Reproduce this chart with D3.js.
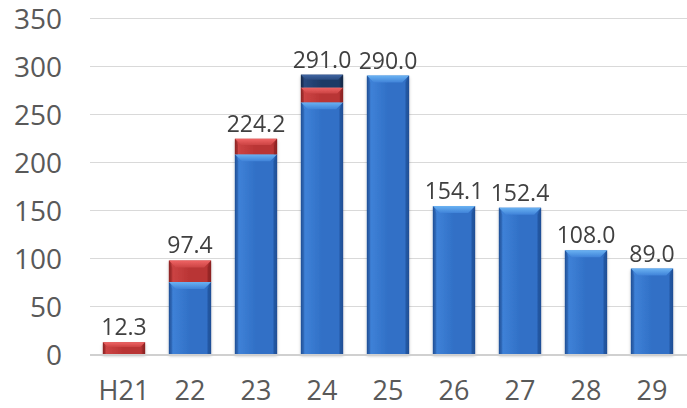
<!DOCTYPE html>
<html><head><meta charset="utf-8">
<script src="https://cdn.jsdelivr.net/npm/d3@7"></script>
<style>
html,body{margin:0;padding:0;background:#fff;}
svg{display:block;}
</style></head>
<body>
<svg id="c" width="687" height="408"></svg>
<script>
const categories = ["H21","22","23","24","25","26","27","28","29"];
const blueVals  = [0, 75.0, 208.0, 262.2, 290.0, 154.1, 152.4, 108.0, 89.0];
const redVals   = [12.3, 22.4, 16.2, 15.4, 0, 0, 0, 0, 0];
const navyVals  = [0, 0, 0, 13.4, 0, 0, 0, 0, 0];
const totalLabels = ["12.3","97.4","224.2","291.0","290.0","154.1","152.4","108.0","89.0"];
const yTicks = [0,50,100,150,200,250,300,350];

const seriesKeys = ["blue","red","navy"];
const palette = {
  blue: {body:"#3170c6", top:"#6ab2f2", edge:"#1f4e94", side:"#3f82d8"},
  red:  {body:"#b93434", top:"#ef6464", edge:"#8a2222", side:"#cc4444"},
  navy: {body:"#1e3a66", top:"#3f66a3", edge:"#142848", side:"#2a4a7e"}
};

const table = categories.map((c,i)=>({cat:c, blue:blueVals[i], red:redVals[i], navy:navyVals[i]}));

const svg = d3.select("#c");
const W = 687, H = 408;
const x = d3.scaleBand().domain(categories).range([91,685]).paddingInner(0.36).paddingOuter(0.18);
const y = d3.scaleLinear().domain([0,350]).range([354,18]);

const defs = svg.append("defs");
seriesKeys.forEach(k=>{
  const g = defs.append("linearGradient").attr("id","g_"+k).attr("x1","0").attr("x2","1").attr("y1","0").attr("y2","0");
  g.append("stop").attr("offset","0").attr("stop-color",palette[k].edge);
  g.append("stop").attr("offset","0.08").attr("stop-color",palette[k].side);
  g.append("stop").attr("offset","0.5").attr("stop-color",palette[k].body);
  g.append("stop").attr("offset","0.9").attr("stop-color",palette[k].body);
  g.append("stop").attr("offset","1").attr("stop-color",palette[k].edge);
  const t = defs.append("linearGradient").attr("id","t_"+k).attr("x1","0").attr("x2","0").attr("y1","0").attr("y2","1");
  t.append("stop").attr("offset","0").attr("stop-color",palette[k].top);
  t.append("stop").attr("offset","1").attr("stop-color",palette[k].side);
});
const f = defs.append("filter").attr("id","sh").attr("x","-20%").attr("y","-5%").attr("width","140%").attr("height","115%");
f.append("feDropShadow").attr("dx",0).attr("dy",2).attr("stdDeviation",1.5).attr("flood-color","#000").attr("flood-opacity",0.25);

// gridlines
svg.append("g").selectAll("line").data(yTicks.filter(d=>d>0)).join("line")
  .attr("x1",90).attr("x2",W).attr("y1",d=>Math.round(y(d))+0.5).attr("y2",d=>Math.round(y(d))+0.5)
  .attr("stroke","#d9d9d9").attr("stroke-width",1);

// y axis labels
const yAxis = d3.axisLeft(y).tickValues(yTicks).tickSize(0).tickPadding(0).tickFormat(d3.format("d"));
const ya = svg.append("g").attr("transform","translate(62,0)").call(yAxis);
ya.select(".domain").remove();
ya.selectAll("text").attr("font-family","'Open Sans', sans-serif").attr("font-size","28px").attr("fill","#595959").attr("dy","0.36em");

// x axis labels
const xAxis = d3.axisBottom(x).tickSize(0).tickPadding(0);
const xa = svg.append("g").attr("transform","translate(0,400)").call(xAxis);
xa.select(".domain").remove();
xa.selectAll("text").attr("font-family","'Open Sans', sans-serif").attr("font-size","27px").attr("fill","#595959").attr("dy","0").attr("y",0);

// stacked bars
const stack = d3.stack().keys(seriesKeys);
const layers = stack(table);
const bw = x.bandwidth();
const gBars = svg.append("g").attr("filter","url(#sh)");
layers.forEach(layer=>{
  const k = layer.key;
  layer.forEach((d,i)=>{
    if (d[1]-d[0] <= 0) return;
    const cx = x(categories[i]);
    const y0 = y(d[0]), y1 = y(d[1]);
    const h = y0 - y1;
    const g = gBars.append("g");
    g.append("rect").attr("x",cx).attr("y",y1).attr("width",bw).attr("height",h).attr("fill","url(#g_"+k+")");
    const b = Math.min(7, h*0.4);
    const tp = d3.path();
    tp.moveTo(cx, y1); tp.lineTo(cx+bw, y1); tp.lineTo(cx+bw-b, y1+b); tp.lineTo(cx+b, y1+b); tp.closePath();
    g.append("path").attr("d",tp.toString()).attr("fill","url(#t_"+k+")");
    const lp = d3.path();
    lp.moveTo(cx, y1); lp.lineTo(cx+b*0.5, y1+b); lp.lineTo(cx+b*0.5, y0); lp.lineTo(cx, y0); lp.closePath();
    g.append("path").attr("d",lp.toString()).attr("fill",palette[k].edge).attr("opacity",0.35);
    const rp = d3.path();
    rp.moveTo(cx+bw, y1); rp.lineTo(cx+bw-b*0.5, y1+b); rp.lineTo(cx+bw-b*0.5, y0); rp.lineTo(cx+bw, y0); rp.closePath();
    g.append("path").attr("d",rp.toString()).attr("fill",palette[k].edge).attr("opacity",0.55);
  });
});

// baseline
svg.append("line").attr("x1",90).attr("x2",W).attr("y1",y(0)+1).attr("y2",y(0)+1)
  .attr("stroke","#d0d0d0").attr("stroke-width",2);

// data labels
const totals = table.map(d=>d.blue+d.red+d.navy);
svg.append("g").selectAll("text").data(categories).join("text")
  .attr("x",d=>x(d)+bw/2)
  .attr("y",(d,i)=>y(totals[i])-7)
  .attr("text-anchor","middle")
  .attr("font-family","'Open Sans', sans-serif").attr("font-size","23px").attr("fill","#404040")
  .text((d,i)=>totalLabels[i]);
</script>
</body></html>
